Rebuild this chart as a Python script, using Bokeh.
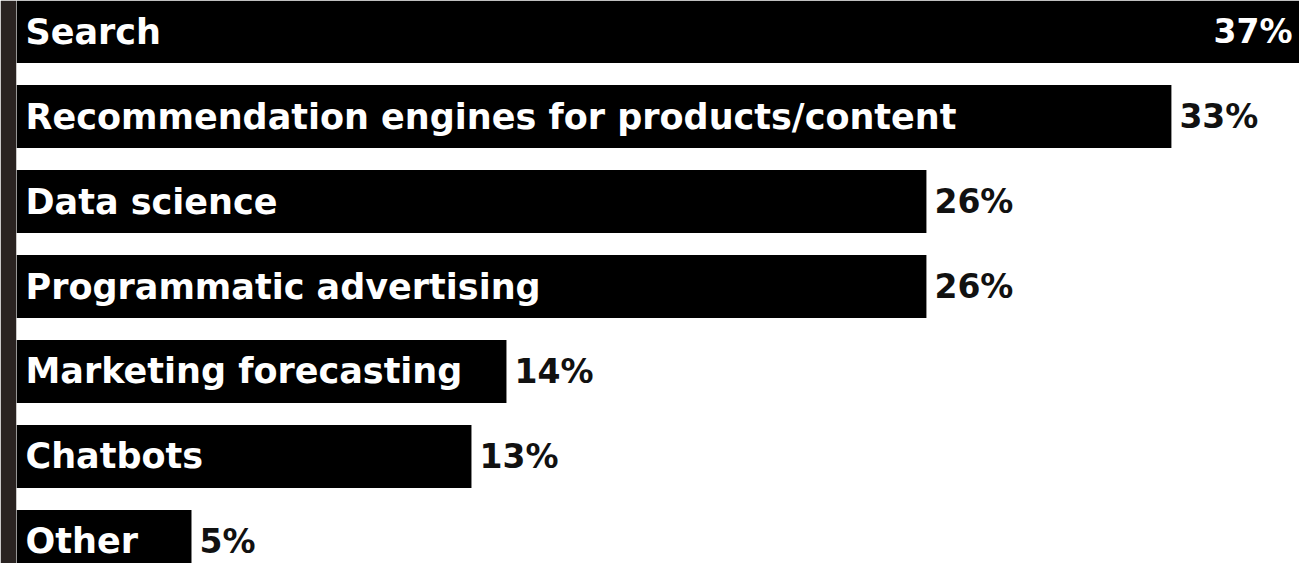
from bokeh.plotting import figure
from bokeh.models import Range1d, ColumnDataSource
from bokeh.core.properties import value
from bokeh.embed import file_html
from bokeh.resources import INLINE

categories = ["Search", "Recommendation engines for products/content", "Data science",
              "Programmatic advertising", "Marketing forecasting", "Chatbots", "Other"]
values = [37, 33, 26, 26, 14, 13, 5]
value_labels = ["37%", "33%", "26%", "26%", "14%", "13%", "5%"]

X_END = 36.66
ypos = list(range(len(categories)))

p = figure(width=1299, height=563, output_backend="svg", toolbar_location=None,
           x_range=Range1d(0, X_END), y_range=Range1d(6.259, -0.365),
           min_border_left=16, min_border_right=0, min_border_top=0, min_border_bottom=0)
p.border_fill_color = "#2a2321"
p.background_fill_color = "white"
p.outline_line_color = None
p.xaxis.visible = False
p.yaxis.visible = False
p.xgrid.visible = False
p.ygrid.visible = False

src = ColumnDataSource(dict(y=ypos, v=values, cat=categories, lab=value_labels))
p.hbar(y="y", left=0, right="v", height=0.74, fill_color="black", line_color=None, source=src)

FONT = value("DejaVu Sans")
SIZE = "35px"
PSIZE = "33px"
p.text(x=0, y="y", text="cat", source=src, text_color="white", text_font=FONT,
       text_font_style="bold", text_font_size=SIZE, text_baseline="middle",
       text_align="left", x_offset=9)

inside = [i for i, v in enumerate(values) if v > X_END]
outside = [i for i, v in enumerate(values) if v <= X_END]
out_src = ColumnDataSource(dict(x=[values[i] for i in outside], y=[ypos[i] for i in outside],
                                t=[value_labels[i] for i in outside]))
in_src = ColumnDataSource(dict(x=[X_END for i in inside], y=[ypos[i] for i in inside],
                               t=[value_labels[i] for i in inside]))
p.text(x="x", y="y", text="t", source=out_src, text_color="#111111", text_font=FONT,
       text_font_style="bold", text_font_size=PSIZE, text_baseline="middle",
       text_align="left", x_offset=8)
p.text(x="x", y="y", text="t", source=in_src, text_color="white", text_font=FONT,
       text_font_style="bold", text_font_size=PSIZE, text_baseline="middle",
       text_align="right", x_offset=-7)

open("out.html", "w").write(file_html(p, INLINE))
